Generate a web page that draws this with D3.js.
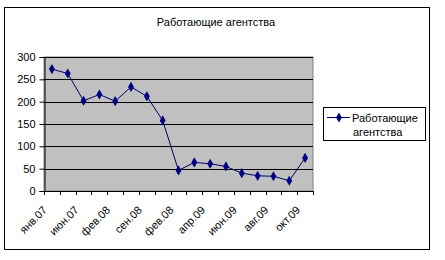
<!DOCTYPE html>
<html>
<head>
<meta charset="utf-8">
<script src="https://cdn.jsdelivr.net/npm/d3@7"></script>
<style>
  body { margin: 0; background: #fff; }
  text { font-family: "Liberation Sans", Arial, sans-serif; }
</style>
</head>
<body>
<div id="chart"></div>
<script>
// data
var months = ["янв.07", "апр.07", "июн.07", "окт.07", "фев.08", "май.08", "сен.08", "дек.08",
              "фев.08", "мар.09", "апр.09", "май.09", "июн.09", "июл.09", "авг.09", "сен.09", "окт.09"];
var agencies = [273, 263, 202, 216, 201, 233, 212, 158, 46, 64, 61, 55, 40, 34, 33, 23, 74];
var yTicks = [0, 50, 100, 150, 200, 250, 300];
var seriesName = "Работающие агентства";

var W = 445, H = 260;
var plot = { left: 44, top: 57, right: 313, bottom: 191 };

var svg = d3.select("#chart").append("svg")
    .attr("width", W)
    .attr("height", H);

// outer frame
svg.append("rect")
    .attr("x", 4.5).attr("y", 7.5)
    .attr("width", 425).attr("height", 242)
    .attr("fill", "#fff")
    .attr("stroke", "#000");

// title
svg.append("text")
    .attr("x", 216).attr("y", 26)
    .attr("text-anchor", "middle")
    .style("font-size", "11px")
    .text(seriesName);

var x = d3.scaleBand()
    .domain(d3.range(months.length))
    .range([plot.left, plot.right]);

var y = d3.scaleLinear()
    .domain([0, 300])
    .range([plot.bottom, plot.top]);

// plot area
svg.append("rect")
    .attr("x", plot.left).attr("y", plot.top)
    .attr("width", plot.right - plot.left)
    .attr("height", plot.bottom - plot.top)
    .attr("fill", "#c0c0c0")
    .attr("stroke", "#808080");

// gridlines
svg.append("g").selectAll("line")
    .data(yTicks.filter(function (d) { return d > 0; }))
    .enter().append("line")
    .attr("x1", plot.left).attr("x2", plot.right)
    .attr("y1", function (d) { return Math.round(y(d)) + 0.5; })
    .attr("y2", function (d) { return Math.round(y(d)) + 0.5; })
    .attr("stroke", "#000");

// y axis
var yAxis = d3.axisLeft(y).tickValues(yTicks).tickSize(5).tickPadding(4);
var gy = svg.append("g")
    .attr("transform", "translate(" + (plot.left + 0.5) + ",0)")
    .call(yAxis);
gy.select(".domain").attr("stroke", "#000");
gy.selectAll("text").style("font-size", "11px").style("font-family", "Liberation Sans, Arial, sans-serif").attr("fill", "#000");

// x axis: ticks on category boundaries
var gx = svg.append("g");
gx.append("line")
    .attr("x1", plot.left).attr("x2", plot.right)
    .attr("y1", plot.bottom + 0.5).attr("y2", plot.bottom + 0.5)
    .attr("stroke", "#000");
gx.selectAll(".tick")
    .data(d3.range(months.length + 1))
    .enter().append("line")
    .attr("class", "tick")
    .attr("x1", function (i) { return Math.round(plot.left + i * x.bandwidth()) + 0.5; })
    .attr("x2", function (i) { return Math.round(plot.left + i * x.bandwidth()) + 0.5; })
    .attr("y1", plot.bottom).attr("y2", plot.bottom + 4)
    .attr("stroke", "#000");

// x labels, every other month
gx.selectAll(".lbl")
    .data(d3.range(0, months.length, 2))
    .enter().append("text")
    .attr("class", "lbl")
    .attr("transform", function (i) {
        return "translate(" + (x(i) + x.bandwidth() / 2 - 7) + "," + (plot.bottom + 17) + ") rotate(-45)";
    })
    .attr("text-anchor", "end")
    .attr("dy", "0.35em")
    .style("font-size", "11px")
    .text(function (i) { return months[i]; });

// line
var cx = function (d, i) { return x(i) + x.bandwidth() / 2; };
svg.append("path")
    .datum(agencies)
    .attr("fill", "none")
    .attr("stroke", "#000066")
    .attr("stroke-width", 1)
    .attr("d", d3.line().x(cx).y(function (d) { return y(d); }));

var diamond = d3.symbol().type(d3.symbolDiamond).size(30);
svg.append("g").selectAll("path")
    .data(agencies)
    .enter().append("path")
    .attr("d", diamond)
    .attr("transform", function (d, i) { return "translate(" + cx(d, i) + "," + y(d) + ")"; })
    .attr("fill", "#000080");

// legend
var lg = svg.append("g");
lg.append("rect")
    .attr("x", 323.5).attr("y", 107.5)
    .attr("width", 102).attr("height", 33)
    .attr("fill", "#fff")
    .attr("stroke", "#000");
lg.append("line")
    .attr("x1", 327).attr("x2", 350)
    .attr("y1", 117.5).attr("y2", 117.5)
    .attr("stroke", "#000066");
lg.append("path")
    .attr("d", diamond)
    .attr("transform", "translate(339,117.5)")
    .attr("fill", "#000080");
lg.append("text")
    .attr("x", 352).attr("y", 121.5)
    .style("font-size", "11px")
    .text("Работающие");
lg.append("text")
    .attr("x", 353).attr("y", 135.5)
    .style("font-size", "11px")
    .text("агентства");
</script>
</body>
</html>
